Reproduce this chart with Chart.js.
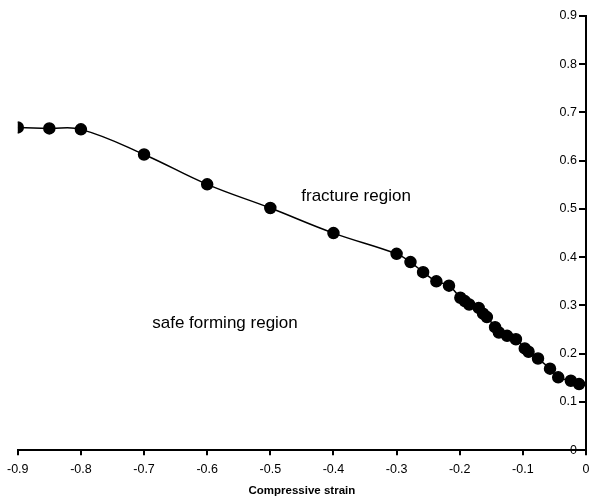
<!DOCTYPE html>
<html>
<head>
<meta charset="utf-8">
<script src="https://cdn.jsdelivr.net/npm/chart.js@4/dist/chart.umd.min.js"></script>
<style>
  html, body { margin: 0; padding: 0; background: #fff; }
  #wrap { width: 593px; height: 502px; }
</style>
</head>
<body>
<div id="wrap"><canvas id="myChart"></canvas></div>
<script>
// compressive strain (x) and tensile strain (y)
var strain_x = [-0.9, -0.85, -0.8, -0.7, -0.6, -0.5, -0.4, -0.3, -0.278, -0.258, -0.237, -0.217,
                -0.199, -0.192, -0.185, -0.170, -0.163, -0.157, -0.144, -0.138, -0.125, -0.111,
                -0.097, -0.091, -0.076, -0.057, -0.044, -0.024, -0.011];
var strain_y = [0.669, 0.667, 0.665, 0.613, 0.551, 0.502, 0.450, 0.407, 0.390, 0.369, 0.350, 0.341,
                0.316, 0.309, 0.302, 0.295, 0.283, 0.276, 0.255, 0.244, 0.237, 0.230,
                0.211, 0.204, 0.190, 0.169, 0.151, 0.144, 0.137];
var labels_txt = ['fracture region', 'safe forming region'];
var labels_x = [-0.451, -0.687];
var labels_y = [0.526, 0.262];

var pontos = [];
for (var i = 0; i < strain_x.length; i++) {
    pontos.push({ x: strain_x[i], y: strain_y[i] });
}

// region texts + tick marks of the y axis (pointing into the plot)
const textos = {
    id: 'textos',
    afterDatasetsDraw: function (chart) {
        var ctx = chart.ctx;
        var sy = chart.scales.y;
        ctx.save();
        ctx.strokeStyle = '#000';
        ctx.lineWidth = 2;
        for (var k = 0; k < sy.ticks.length; k++) {
            var py = Math.round(sy.getPixelForValue(sy.ticks[k].value));
            ctx.beginPath();
            ctx.moveTo(sy.left, py);
            ctx.lineTo(sy.left - 7, py);
            ctx.stroke();
        }
        ctx.fillStyle = '#000';
        ctx.font = '17px "Liberation Sans", Arial, sans-serif';
        ctx.textAlign = 'left';
        ctx.textBaseline = 'middle';
        for (var i = 0; i < labels_txt.length; i++) {
            ctx.fillText(labels_txt[i],
                chart.scales.x.getPixelForValue(labels_x[i]),
                chart.scales.y.getPixelForValue(labels_y[i]));
        }
        ctx.restore();
    }
};

Chart.defaults.font.family = '"Liberation Sans", Arial, sans-serif';
Chart.defaults.color = '#000';

const config = {
    type: 'scatter',
    data: {
        datasets: [{
            data: pontos,
            showLine: true,
            tension: 0.4,
            borderColor: '#000',
            borderWidth: 1.5,
            backgroundColor: '#000',
            pointRadius: 5.5,
            pointHoverRadius: 5.5
        }]
    },
    options: {
        responsive: true,
        maintainAspectRatio: false,
        animation: false,
        layout: { padding: { left: 8, right: 0, top: 16, bottom: 4 } },
        plugins: { legend: { display: false }, tooltip: { enabled: false } },
        scales: {
            x: {
                type: 'linear',
                min: -0.9,
                max: 0,
                position: 'bottom',
                afterFit: function (scale) { scale.paddingRight = 2.5; },
                grid: { drawOnChartArea: false, color: '#000', tickLength: 5, lineWidth: 2 },
                border: { color: '#000', width: 2 },
                ticks: {
                    stepSize: 0.1,
                    font: { size: 12.5 },
                    padding: 7,
                    maxRotation: 0,
                    callback: function (v) { return Math.round(v * 10) / 10 + ''; }
                },
                title: {
                    display: true,
                    text: 'Compressive strain',
                    font: { size: 11.5, weight: 'bold' },
                    padding: { top: 0, bottom: 0 }
                }
            },
            y: {
                type: 'linear',
                min: 0,
                max: 0.9,
                position: 'right',
                afterFit: function (scale) { scale.width = 0; },
                grid: { drawOnChartArea: false, drawTicks: false, color: '#000' },
                border: { color: '#000', width: 2 },
                ticks: {
                    stepSize: 0.1,
                    mirror: true,
                    crossAlign: 'near',
                    font: { size: 12.5 },
                    padding: -9,
                    callback: function (v) { return Math.round(v * 10) / 10 + ''; }
                }
            }
        }
    },
    plugins: [textos]
};

const myChart = new Chart(document.getElementById('myChart'), config);
</script>
</body>
</html>
